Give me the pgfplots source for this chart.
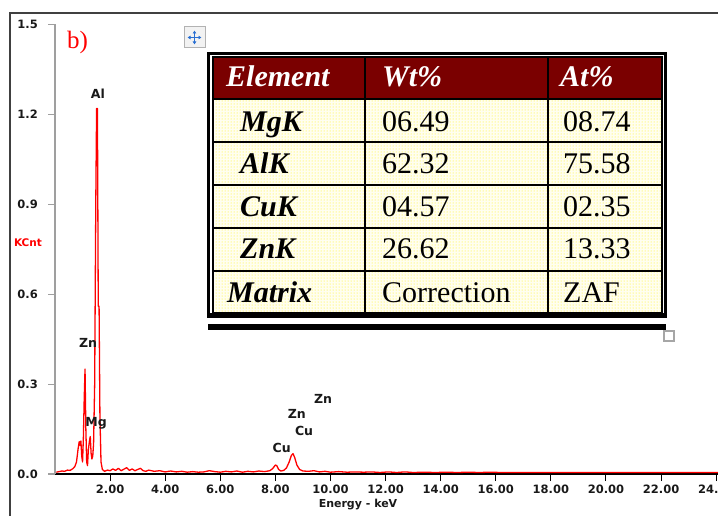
\documentclass[border=0pt]{standalone}
\usepackage{fontspec}
\usepackage{pgfplots}
\pgfplotsset{compat=1.18}
\usetikzlibrary{patterns,arrows.meta}
\newfontfamily\dv{DejaVu Sans}
\newfontfamily\tms{Liberation Serif}
\definecolor{maroon}{RGB}{122,0,0}
\definecolor{txt}{RGB}{25,25,25}
\definecolor{iconblue}{RGB}{40,110,210}
\newcommand{\tickf}{\dv\bfseries\fontsize{11.5}{12}\selectfont}
\newcommand{\pkf}{\dv\bfseries\fontsize{12.5}{13}\selectfont}
\newcommand{\tabf}{\tms\fontsize{30}{30}\selectfont}
\pgfplotstableread{
x y
0.05 0.006
0.15 0.008
0.25 0.010
0.35 0.009
0.45 0.013
0.55 0.012
0.65 0.018
0.72 0.025
0.78 0.040
0.84 0.085
0.88 0.108
0.91 0.095
0.94 0.110
0.97 0.060
1.00 0.040
1.03 0.120
1.06 0.250
1.09 0.350
1.12 0.150
1.15 0.040
1.18 0.028
1.21 0.080
1.25 0.110
1.28 0.125
1.31 0.070
1.34 0.050
1.37 0.060
1.40 0.100
1.44 0.300
1.48 0.900
1.51 1.220
1.54 1.220
1.57 0.560
1.60 0.560
1.63 0.200
1.67 0.040
1.72 0.015
1.80 0.009
1.90 0.013
2.00 0.011
2.10 0.017
2.20 0.012
2.30 0.019
2.40 0.011
2.50 0.016
2.60 0.021
2.70 0.012
2.80 0.017
2.90 0.011
3.00 0.015
3.10 0.019
3.20 0.011
3.30 0.009
3.40 0.013
3.60 0.009
3.80 0.011
4.00 0.007
4.20 0.010
4.40 0.007
4.60 0.009
4.80 0.006
5.00 0.008
5.20 0.006
5.40 0.007
5.60 0.011
5.80 0.008
6.00 0.006
6.20 0.009
6.40 0.007
6.60 0.010
6.80 0.006
7.00 0.009
7.20 0.007
7.40 0.010
7.60 0.008
7.80 0.011
7.90 0.018
8.00 0.030
8.05 0.028
8.12 0.015
8.20 0.010
8.30 0.012
8.40 0.020
8.50 0.040
8.58 0.062
8.64 0.068
8.70 0.055
8.78 0.030
8.88 0.015
9.00 0.010
9.20 0.009
9.40 0.011
9.60 0.007
9.80 0.009
10.0 0.006
10.3 0.008
10.6 0.006
10.9 0.007
11.2 0.006
11.5 0.007
11.8 0.005
12.1 0.007
12.4 0.005
12.7 0.007
13.0 0.005
13.4 0.006
13.8 0.005
14.2 0.006
14.6 0.005
15.0 0.006
15.4 0.005
15.8 0.006
16.2 0.005
17.0 0.005
20.0 0.005
24.2 0.005
}\spectrum
\begin{document}
\begin{tikzpicture}[x=1pt,y=1pt]
\path[use as bounding box] (0,0) rectangle (718,515);
\clip (0,0) rectangle (718,515);
% outer frame
\draw[line width=2pt, black!75] (10,-5) -- (10,502) -- (725,502);
\begin{axis}[
  at={(55pt,41pt)}, anchor=south west,
  scale only axis, width=666.7pt, height=449.5pt,
  xmin=0, xmax=24.2, ymin=0, ymax=1.5,
  axis x line=bottom, axis y line=left,
  x axis line style={-, black, line width=1.8pt},
  y axis line style={-, gray!75, line width=1.2pt},
  tick align=outside,
  major tick length=7pt,
  x tick style={black, line width=1pt},
  y tick style={gray!75, line width=1.2pt},
  minor tick num=0,
  xtick={2,4,...,24},
  xticklabels={2.00,4.00,6.00,8.00,10.00,12.00,14.00,16.00,18.00,20.00,22.00,24.00},
  ytick={0,0.3,0.6,0.9,1.2,1.5},
  yticklabels={0.0,0.3,0.6,0.9,1.2,1.5},
  ticklabel style={font=\tickf, text=txt},
  yticklabel style={anchor=east, inner sep=0pt, xshift=-10pt},
  xticklabel style={anchor=north, inner sep=0pt, yshift=-4pt},
  clip=false,
]
\addplot[red, line width=1.3pt, line join=round] table[x=x, y=y] {\spectrum};
\node[font=\pkf, text=txt] at (axis cs:1.56,1.27) {Al};
\node[font=\pkf, text=txt] at (axis cs:1.20,0.437) {Zn};
\node[font=\pkf, text=txt] at (axis cs:1.49,0.17) {Mg};
\node[font=\pkf, text=txt] at (axis cs:8.23,0.087) {Cu};
\node[font=\pkf, text=txt] at (axis cs:9.04,0.143) {Cu};
\node[font=\pkf, text=txt] at (axis cs:8.78,0.20) {Zn};
\node[font=\pkf, text=txt] at (axis cs:9.73,0.25) {Zn};
\end{axis}
% axis titles
\node[font=\dv\bfseries\fontsize{11}{12}\selectfont, text=txt] at (358,10) {Energy - keV};
\node[font=\dv\bfseries\fontsize{10.5}{11}\selectfont, text=red] at (28,272) {KCnt};
\node[font=\tms\fontsize{25}{25}\selectfont, text=red, anchor=base west, inner sep=0pt] at (67,466) {b)};
% move icon
\draw[gray!60, fill=gray!10, line width=1pt] (184,467) rectangle (205,488);
\draw[iconblue, line width=1.2pt, {Latex[length=3pt,width=4pt]}-{Latex[length=3pt,width=4pt]}] (187.5,477.5) -- (201.5,477.5);
\draw[iconblue, line width=1.2pt, {Latex[length=3pt,width=4pt]}-{Latex[length=3pt,width=4pt]}] (194.5,470.5) -- (194.5,484.5);
% table
\fill[white] (207,196) rectangle (667,462);
\fill[maroon] (213,416) rectangle (662,458);
\fill[yellow!6] (213,202) rectangle (662,416);
\pattern[pattern=dots, pattern color=yellow!90!orange] (213,202) rectangle (662,416);
\draw[line width=1.6pt] (213,202) rectangle (662,458);
\foreach \yy in {99,142,185,228,271} {\draw[line width=1.6pt] (213,515-\yy) -- (662,515-\yy);}
\foreach \xx in {365,548} {\draw[line width=1.6pt] (\xx,202) -- (\xx,458);}
\draw[line width=3pt] (208.5,199) rectangle (665,461);
\draw[line width=5pt] (207,199.5) -- (666.5,199.5);
\draw[line width=6pt] (208,188) -- (666,188);
\draw[gray!70, fill=white, line width=1.5pt] (664,174) rectangle (674,184);
% header
\node[font=\tabf\bfseries\itshape, text=white, anchor=base west, inner sep=0pt] at (226,428) {Element};
\node[font=\tabf\bfseries\itshape, text=white, anchor=base west, inner sep=0pt] at (382,428) {Wt\%};
\node[font=\tabf\bfseries\itshape, text=white, anchor=base west, inner sep=0pt] at (560,428) {At\%};
% body
\foreach \nm/\wt/\at/\bl in {MgK/06.49/08.74/131.5, AlK/62.32/75.58/173.5, CuK/04.57/02.35/216.5, ZnK/26.62/13.33/259} {
  \node[font=\tabf\bfseries\itshape, text=black, anchor=base west, inner sep=0pt] at (240,515-\bl) {\nm};
  \node[font=\tabf, text=black, anchor=base west, inner sep=0pt] at (382,515-\bl) {\wt};
  \node[font=\tabf, text=black, anchor=base west, inner sep=0pt] at (563,515-\bl) {\at};
}
\node[font=\tabf\bfseries\itshape, text=black, anchor=base west, inner sep=0pt] at (227,212) {Matrix};
\node[font=\tabf, text=black, anchor=base west, inner sep=0pt] at (382,212) {Correction};
\node[font=\tabf, text=black, anchor=base west, inner sep=0pt] at (563,212) {ZAF};
\end{tikzpicture}
\end{document}
